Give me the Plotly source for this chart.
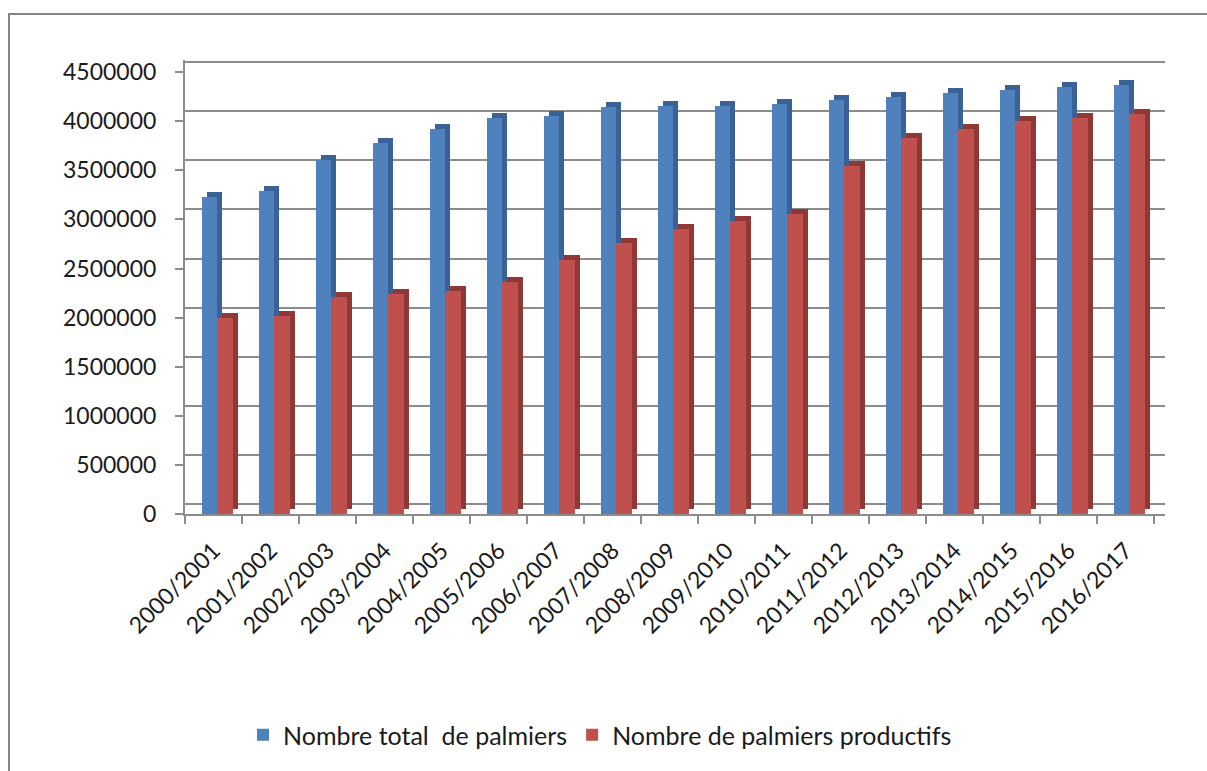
import plotly.graph_objects as go

# Campaign years (categories)
campagnes = [
    "2000/2001", "2001/2002", "2002/2003", "2003/2004", "2004/2005",
    "2005/2006", "2006/2007", "2007/2008", "2008/2009", "2009/2010",
    "2010/2011", "2011/2012", "2012/2013", "2013/2014", "2014/2015",
    "2015/2016", "2016/2017",
]

# Total number of date palms
total_palmiers = [
    3230000, 3290000, 3610000, 3780000, 3920000, 4030000, 4050000,
    4140000, 4150000, 4150000, 4180000, 4220000, 4250000, 4290000,
    4320000, 4350000, 4370000,
]

# Number of productive date palms
palmiers_productifs = [
    2000000, 2020000, 2210000, 2240000, 2270000, 2360000, 2590000,
    2760000, 2900000, 2980000, 3050000, 3540000, 3830000, 3920000,
    4000000, 4030000, 4070000,
]

y_ticks = [0, 500000, 1000000, 1500000, 2000000, 2500000,
           3000000, 3500000, 4000000, 4500000]

# Figure geometry (pixels)
W, H = 1207, 771
L, R, T, B = 185, 42, 60, 257
plot_w = W - L - R
plot_h = H - T - B
px_per_cat = 57.0
px_per_unit = 98.2 / 1e6          # pixels per palm
depth_px = 5                      # apparent depth of the 3D columns
depth_val = depth_px / px_per_unit
wall_shift = 10                   # back wall sits 10 px above the front axis

BLUE, BLUE_DARK = "#4f81bd", "#3a6296"
RED, RED_DARK = "#c0504d", "#8e3936"
GRID = "#8c8c8c"
FONT = "Lato, 'Open Sans', sans-serif"
TXT = "#1a1a1a"

bar_w = 0.275
off_blue = -0.21
off_red = 0.065
side = depth_px / px_per_cat

fig = go.Figure()

# Side/top faces drawn first, slightly up and to the right of each front face
fig.add_trace(go.Bar(x=campagnes, y=total_palmiers, base=depth_val,
                     offset=off_blue + side, width=bar_w,
                     marker=dict(color=BLUE_DARK, line=dict(width=0)),
                     showlegend=False, hoverinfo="skip"))
fig.add_trace(go.Bar(x=campagnes, y=total_palmiers,
                     offset=off_blue, width=bar_w,
                     marker=dict(color=BLUE, line=dict(width=0)),
                     name="Nombre total  de palmiers"))
fig.add_trace(go.Bar(x=campagnes, y=palmiers_productifs, base=depth_val,
                     offset=off_red + side, width=bar_w,
                     marker=dict(color=RED_DARK, line=dict(width=0)),
                     showlegend=False, hoverinfo="skip"))
fig.add_trace(go.Bar(x=campagnes, y=palmiers_productifs,
                     offset=off_red, width=bar_w,
                     marker=dict(color=RED, line=dict(width=0)),
                     name="Nombre de palmiers productifs"))

# Invisible helper trace carrying the back-wall gridline axis
fig.add_trace(go.Scatter(x=[campagnes[0]], y=[0], yaxis="y2",
                         mode="markers", marker=dict(opacity=0),
                         showlegend=False, hoverinfo="skip"))

y_top = plot_h / px_per_unit
shift = wall_shift / px_per_unit
x_hi = -0.5 + plot_w / px_per_cat

fig.update_layout(
    width=W, height=H,
    margin=dict(l=L, r=R, t=T, b=B),
    paper_bgcolor="white", plot_bgcolor="white",
    font=dict(family=FONT, size=23, color=TXT),
    barmode="overlay",
    bargap=0,
    xaxis=dict(
        type="category", range=[-0.5, x_hi],
        showgrid=False, showline=True, linecolor=GRID, linewidth=2,
        ticks="outside", ticklen=8, tickwidth=2, tickcolor=GRID,
        tickson="boundaries", tickangle=-45,
        ticklabelstandoff=12,
        tickfont=dict(family=FONT, size=23, color=TXT),
        zeroline=False,
    ),
    yaxis=dict(
        range=[0, y_top], tickvals=y_ticks,
        ticktext=[str(v) for v in y_ticks],
        showgrid=False, zeroline=False,
        showline=True, linecolor=GRID, linewidth=2,
        ticks="outside", ticklen=8, tickwidth=2, tickcolor=GRID,
        ticklabelstandoff=14,
        tickfont=dict(family=FONT, size=23, color=TXT),
    ),
    yaxis2=dict(
        overlaying="y", side="left",
        range=[-shift, y_top - shift], tickvals=y_ticks,
        showticklabels=False, ticks="",
        showgrid=True, gridcolor=GRID, gridwidth=2,
        zeroline=False, showline=False,
    ),
    legend=dict(
        orientation="h", x=(600 - L) / plot_w, xanchor="center",
        y=(T + plot_h - 735) / plot_h, yanchor="middle",
        font=dict(family=FONT, size=25, color=TXT),
        itemwidth=30, bgcolor="rgba(0,0,0,0)",
        entrywidthmode="pixels",
    ),
    shapes=[
        # outer chart frame
        dict(type="rect", xref="paper", yref="paper",
             x0=(9 - L) / plot_w, x1=(W + 20 - L) / plot_w,
             y0=(T + plot_h - (H + 20)) / plot_h, y1=(T + plot_h - 14) / plot_h,
             line=dict(color="#868686", width=2), fillcolor="rgba(0,0,0,0)",
             layer="below"),
    ],
)

fig.write_html("out.html")
